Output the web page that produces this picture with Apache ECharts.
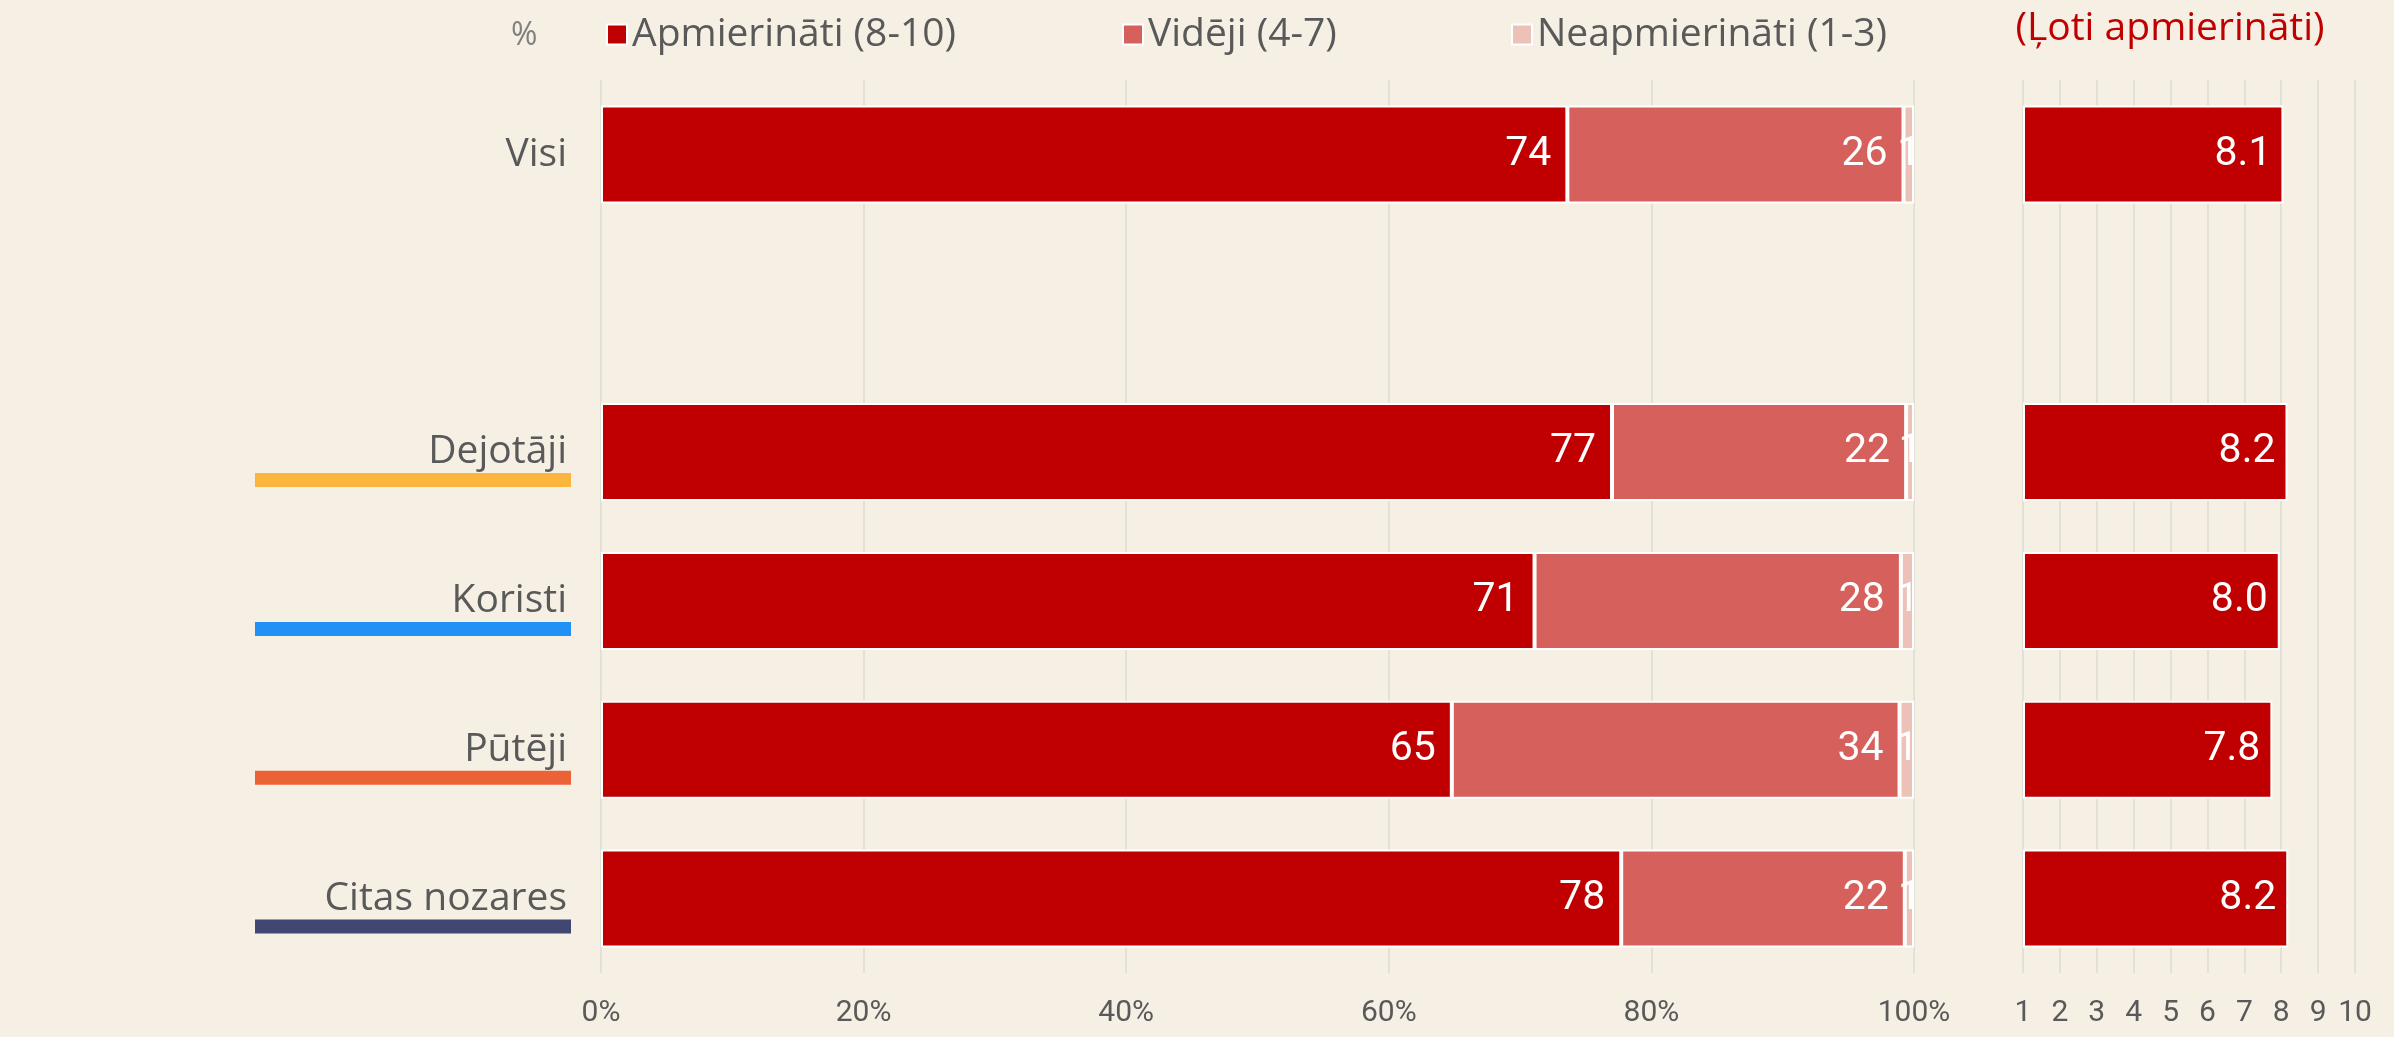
<!DOCTYPE html>
<html>
<head>
<meta charset="utf-8">
<script src="https://cdn.jsdelivr.net/npm/echarts@6/dist/echarts.min.js"></script>
<style>
  html, body { margin: 0; padding: 0; background: #f5efe4; }
  #chart { width: 2394px; height: 1037px; }
</style>
</head>
<body>
<div id="chart"></div>
<script>
// rows (the empty one is just a spacer between "Visi" and the groups)
const categories = ['Visi', '', 'Dejotāji', 'Koristi', 'Pūtēji', 'Citas nozares'];
const groupColors = ['', '', '#fbb53c', '#2291f5', '#ec6236', '#404773'];

// % shares
const satisfied = [73.6, null, 77.0, 71.1, 64.8, 77.7];
const neutral = [25.6, null, 22.4, 27.9, 34.1, 21.6];
const dissatisfied = [0.8, null, 0.6, 1.0, 1.1, 0.7];

// average score 1-10
const avgScore = [8.06, null, 8.17, 7.96, 7.76, 8.19];

const seriesNames = ['Apmierināti (8-10)', 'Vidēji (4-7)', 'Neapmierināti (1-3)'];
const seriesColors = ['#c00000', '#d6605b', '#ebc1b8'];

const textColor = '#595959';
const gridColor = '#dddbd3';
const labelFont = '"Open Sans", sans-serif';
const numFont = 'Roboto, sans-serif';

// rich styles for the coloured underline under each group name
const rich = {
  sp: { height: 14, lineHeight: 14 },
  n: { fontSize: 39, lineHeight: 42, color: textColor, fontFamily: labelFont, align: 'right', padding: [0, 4, 0, 0] }
};
groupColors.forEach(function (c, i) {
  rich['u' + i] = c
    ? { width: 316, height: 14, lineHeight: 14, backgroundColor: c, align: 'right' }
    : { width: 1, height: 14, lineHeight: 14 };
});

const chart = echarts.init(document.getElementById('chart'));

function barLabel(pos, dist) {
  return {
    show: true,
    position: pos,
    distance: dist,
    color: '#fff',
    fontSize: 41,
    fontFamily: numFont,
    formatter: function (p) { return p.value == null ? '' : Math.round(p.value); }
  };
}

const option = {
  backgroundColor: '#f5efe4',
  animation: false,
  title: {
    text: '%',
    left: 506,
    top: 15,
    textStyle: { color: '#808080', fontSize: 32, fontWeight: 'normal', fontFamily: labelFont }
  },
  graphic: [{
    type: 'text',
    x: 2170,
    y: 29,
    style: {
      text: '(Ļoti apmierināti)',
      fill: '#c00000',
      font: '39px "Open Sans", sans-serif',
      align: 'center',
      verticalAlign: 'middle'
    }
  }],
  legend: seriesNames.map(function (name, i) {
    return {
      data: [name],
      left: [601, 1117, 1506][i],
      top: 10,
      icon: 'rect',
      itemWidth: 20,
      itemHeight: 20,
      itemStyle: { borderColor: '#fff', borderWidth: 2 },
      textStyle: { color: textColor, fontSize: 39, fontFamily: labelFont }
    };
  }),
  grid: [
    { left: 601, right: 480, top: 80, bottom: 64 },
    { left: 2023, right: 39, top: 80, bottom: 64 }
  ],
  xAxis: [{
    gridIndex: 0,
    type: 'value',
    min: 0,
    max: 100,
    interval: 20,
    axisLine: { show: false },
    axisTick: { show: false },
    splitLine: { lineStyle: { color: gridColor, width: 1.5 } },
    axisLabel: { margin: 25, color: textColor, fontSize: 30, fontFamily: numFont, formatter: '{value}%' }
  }, {
    gridIndex: 1,
    type: 'value',
    min: 1,
    max: 10,
    interval: 1,
    startValue: 1,
    axisLine: { show: false },
    axisTick: { show: false },
    splitLine: { lineStyle: { color: gridColor, width: 1.5 } },
    axisLabel: { margin: 25, color: textColor, fontSize: 30, fontFamily: numFont }
  }],
  yAxis: [{
    gridIndex: 0,
    type: 'category',
    data: categories,
    inverse: true,
    axisLine: { show: false },
    axisTick: { show: false },
    axisLabel: {
      margin: 30,
      formatter: function (v, i) { return '{sp|}\n{n|' + v + '}\n{u' + i + '|}'; },
      rich: rich
    }
  }, {
    gridIndex: 1,
    type: 'category',
    data: categories,
    inverse: true,
    axisLine: { show: false },
    axisTick: { show: false },
    axisLabel: { show: false }
  }],
  series: [{
    name: seriesNames[0],
    type: 'bar',
    stack: 'pct',
    data: satisfied,
    barWidth: 98,
    itemStyle: { color: seriesColors[0], borderColor: '#fff', borderWidth: 2 },
    label: barLabel('insideRight', 16)
  }, {
    name: seriesNames[1],
    type: 'bar',
    stack: 'pct',
    data: neutral,
    barWidth: 98,
    itemStyle: { color: seriesColors[1], borderColor: '#fff', borderWidth: 2 },
    label: barLabel('insideRight', 16)
  }, {
    name: seriesNames[2],
    type: 'bar',
    stack: 'pct',
    data: dissatisfied,
    barWidth: 98,
    itemStyle: { color: seriesColors[2], borderColor: '#fff', borderWidth: 2 },
    label: barLabel('inside', 0)
  }, {
    name: 'score',
    type: 'bar',
    xAxisIndex: 1,
    yAxisIndex: 1,
    data: avgScore,
    barWidth: 98,
    clip: true,
    itemStyle: { color: '#c00000', borderColor: '#fff', borderWidth: 2 },
    label: {
      show: true,
      position: 'insideRight',
      distance: 12,
      color: '#fff',
      fontSize: 41,
      fontFamily: numFont,
      formatter: function (p) { return p.value == null ? '' : p.value.toFixed(1); }
    }
  }]
};

chart.setOption(option);
</script>
</body>
</html>
